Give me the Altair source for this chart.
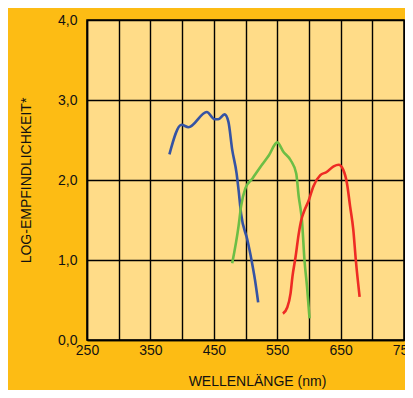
import altair as alt
import pandas as pd

# Blue (short-wave) curve
blue_nm = [380, 399, 410, 439, 451, 457, 467, 473, 479, 486, 489, 493, 503, 509, 515, 520]
blue_val = [2.32, 2.69, 2.66, 2.85, 2.76, 2.76, 2.82, 2.73, 2.38, 2.08, 1.88, 1.58, 1.25, 1.02, 0.75, 0.47]

# Green (mid-wave) curve
green_nm = [479, 489, 493, 500, 511, 526, 537, 550, 560, 571, 580, 584, 587, 589, 593, 597, 601]
green_val = [0.96, 1.42, 1.67, 1.90, 2.02, 2.19, 2.31, 2.47, 2.35, 2.25, 2.08, 1.79, 1.63, 1.50, 1.00, 0.67, 0.27]

# Red (long-wave) curve
red_nm = [559, 566, 571, 574, 579, 584, 588, 592, 600, 607, 618, 628, 639, 647, 654, 660, 665, 670, 674, 680]
red_val = [0.33, 0.41, 0.58, 0.79, 1.04, 1.33, 1.50, 1.60, 1.75, 1.92, 2.06, 2.10, 2.17, 2.19, 2.13, 1.96, 1.67, 1.38, 1.00, 0.54]

x_grid = [250, 300, 350, 400, 450, 500, 550, 600, 650, 700, 750]
y_ticks = [0, 1, 2, 3, 4]

rows = []
for name, xs, ys in [("blau", blue_nm, blue_val), ("grün", green_nm, green_val), ("rot", red_nm, red_val)]:
    for x, y in zip(xs, ys):
        rows.append({"serie": name, "nm": x, "val": y})
df = pd.DataFrame(rows)

chart = alt.Chart(df).mark_line(strokeWidth=2.6, interpolate="monotone").encode(
    x=alt.X("nm:Q", scale=alt.Scale(domain=[250, 750], nice=False, zero=False),
            axis=alt.Axis(values=x_grid, ticks=False, grid=True, gridColor="#000000", gridWidth=1.4,
                          domainColor="#000000", domainWidth=1.5,
                          labelExpr="datum.value % 100 == 50 ? datum.label : ''",
                          labelFont="Liberation Sans", labelFontSize=14, labelColor="#111111",
                          labelPadding=3, labelFlush=False,
                          title="WELLENLÄNGE (nm)", titleFont="Liberation Sans", titleFontSize=14,
                          titleFontWeight="normal", titleColor="#111111", titlePadding=17,
                          titleX=170, titleAlign="center")),
    y=alt.Y("val:Q", scale=alt.Scale(domain=[0, 4], nice=False),
            axis=alt.Axis(values=y_ticks, ticks=False, grid=True, gridColor="#000000", gridWidth=1.4,
                          domainColor="#000000", domainWidth=1.5,
                          labelExpr="replace(format(datum.value, '.1f'), '.', ',')",
                          labelFont="Liberation Sans", labelFontSize=14, labelColor="#111111",
                          labelPadding=10, labelFlush=False,
                          title="LOG-EMPFINDLICHKEIT*", titleFont="Liberation Sans", titleFontSize=14,
                          titleFontWeight="normal", titleColor="#111111", titlePadding=24)),
    color=alt.Color("serie:N", scale=alt.Scale(domain=["blau", "grün", "rot"],
                                               range=["#3553A4", "#6CBE45", "#EE2B24"]), legend=None),
    detail="serie:N",
).properties(
    width=317, height=320,
    autosize=alt.AutoSizeParams(type="none"),
    padding={"left": 79, "top": 12, "right": 1, "bottom": 50},
    background="#FDBC14",
).configure_view(fill="#FFDC88", stroke="#000000", strokeWidth=1.5)

chart.save("out.html", embed_options={"renderer": "svg", "actions": False})
